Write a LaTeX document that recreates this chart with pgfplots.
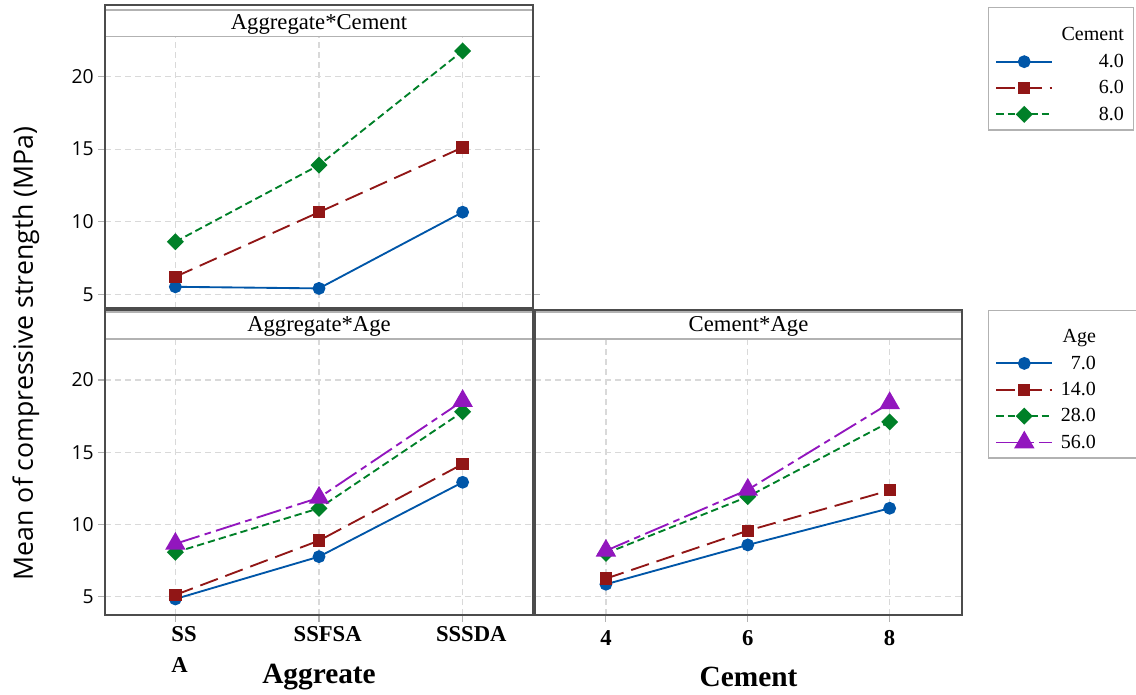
\documentclass[border=0pt]{standalone}
\usepackage{pgfplots}
\pgfplotsset{compat=1.18}
\usepackage{fontspec}
\setmainfont{Liberation Serif}
\newfontfamily\sansf{Open Sans}

\definecolor{cblue}{RGB}{0,86,168}
\definecolor{cred}{RGB}{145,22,22}
\definecolor{cgreen}{RGB}{0,128,40}
\definecolor{cpurple}{RGB}{146,22,190}

\pgfplotsset{
  panel/.style={
    scale only axis, clip=false,
    axis line style={black!80, line width=1pt},
    grid=major,
    major grid style={gray!30, line width=1pt, dash pattern=on 4.5pt off 3pt},
    tick align=outside,
    major tick length=5pt,
    tick style={gray!60, line width=0.8pt},
    yticklabel style={font=\sansf\fontsize{14.5}{16}\selectfont},
    xticklabel style={font=\bfseries\fontsize{17}{23}\selectfont, align=left},
    /pgf/number format/assume math mode=true,
    ytick={5,10,15,20},
    legend cell align=right,
    legend style={draw=gray!60, line width=1pt, font=\fontsize{15}{18}\selectfont,
      anchor=north west, inner xsep=5pt, inner ysep=4pt, row sep=4.3pt},
    legend image code/.code={\draw[mark repeat=2,mark phase=2,#1]
      plot coordinates {(0pt,0pt) (21pt,0pt) (42pt,0pt)};},
  },
  sA/.style={cblue, solid, line width=1.4pt, mark=*, mark size=4.1pt, mark options={solid}},
  sB/.style={cred, line width=1.4pt, dash pattern=on 14pt off 6pt, mark=square*, mark size=3.9pt, mark options={solid}},
  sC/.style={cgreen, line width=1.4pt, dash pattern=on 5.5pt off 3pt, mark=square*, mark size=3.8pt, mark options={solid, rotate=45}},
  sD/.style={cpurple, line width=1.4pt, dash pattern=on 19pt off 4pt on 5pt off 4pt, mark=triangle*, mark size=7.5pt, mark options={solid}},
}

\begin{document}
\begin{tikzpicture}
\path[use as bounding box] (0,0) rectangle (852pt,-521.25pt);

% Aggregate*Cement
\begin{axis}[panel,
  at={(78.75pt,-231pt)}, anchor=south west,
  width=321pt, height=203.5pt,
  xmin=-0.49, xmax=2.49, ymin=4.06, ymax=22.75,
  xtick={0,1,2}, xticklabels={}, xtick style={draw=none},
  legend style={at={(2.063,1.1095)}},
  after end axis/.code={
    \fill[white] (rel axis cs:0,1) rectangle (rel axis cs:1,1.0984);
    \draw[gray!60, line width=1.2pt] (rel axis cs:0,1) -- (rel axis cs:1,1)
      (rel axis cs:0,1.0984) -- (rel axis cs:1,1.0984);
    \node[font=\fontsize{17}{20}\selectfont] at (rel axis cs:0.5,1.045) {Aggregate*Cement};
    \draw[black!70, line width=1.8pt] (rel axis cs:0,0) rectangle (rel axis cs:1,1.117);
  }]
\addlegendimage{empty legend}
\addlegendentry{\makebox[51pt][r]{\rule{0pt}{19pt}Cement}}
\addplot[sA] coordinates {(0,5.52) (1,5.41) (2,10.66)};
\addlegendentry{\makebox[51pt][r]{4.0}}
\addplot[sB] coordinates {(0,6.21) (1,10.66) (2,15.12)};
\addlegendentry{\makebox[51pt][r]{6.0}}
\addplot[sC] coordinates {(0,8.62) (1,13.90) (2,21.77)};
\addlegendentry{\makebox[51pt][r]{8.0}}
\end{axis}

% Aggregate*Age
\begin{axis}[panel,
  at={(78.75pt,-461.25pt)}, anchor=south west,
  width=321pt, height=207pt,
  xmin=-0.49, xmax=2.49, ymin=3.73, ymax=22.84,
  xtick={0,1,2},
  xticklabels={{SS\\A}, SSFSA, SSSDA},
  xticklabel style={anchor=north, xshift=6.5pt},
  xlabel={Aggreate},
  xlabel style={at={(axis description cs:0.5,-0.2246)}, anchor=center,
    font=\bfseries\fontsize{22}{24}\selectfont},
  after end axis/.code={
    \fill[white] (rel axis cs:0,1) rectangle (rel axis cs:1,1.0978);
    \draw[gray!60, line width=1.2pt] (rel axis cs:0,1) -- (rel axis cs:1,1)
      (rel axis cs:0,1.0978) -- (rel axis cs:1,1.0978);
    \node[font=\fontsize{17}{20}\selectfont] at (rel axis cs:0.5,1.045) {Aggregate*Age};
    \draw[black!70, line width=1.8pt] (rel axis cs:0,0) rectangle (rel axis cs:1,1.105);
  }]
\addplot[sA] coordinates {(0,4.84) (1,7.77) (2,12.92)};
\addplot[sB] coordinates {(0,5.12) (1,8.88) (2,14.18)};
\addplot[sC] coordinates {(0,8.07) (1,11.12) (2,17.80)};
\addplot[sD] coordinates {(0,8.66) (1,11.85) (2,18.55)};
\end{axis}

% Cement*Age
\begin{axis}[panel,
  at={(401.25pt,-461.25pt)}, anchor=south west,
  width=320.25pt, height=207pt,
  xmin=3, xmax=9.02, ymin=3.73, ymax=22.84,
  xtick={4,6,8}, yticklabels={}, ytick style={draw=none},
  xticklabel style={yshift=-3pt},
  xlabel={Cement},
  xlabel style={at={(axis description cs:0.5,-0.2246)}, anchor=center,
    font=\bfseries\fontsize{22}{24}\selectfont},
  legend style={at={(1.061,1.105)}},
  after end axis/.code={
    \fill[white] (rel axis cs:0,1) rectangle (rel axis cs:1,1.0978);
    \draw[gray!60, line width=1.2pt] (rel axis cs:0,1) -- (rel axis cs:1,1)
      (rel axis cs:0,1.0978) -- (rel axis cs:1,1.0978);
    \node[font=\fontsize{17}{20}\selectfont] at (rel axis cs:0.5,1.045) {Cement*Age};
    \draw[black!70, line width=1.8pt] (rel axis cs:0,0) rectangle (rel axis cs:1,1.105);
  }]
\addlegendimage{empty legend}
\addlegendentry{\makebox[56pt][l]{\makebox[30pt][r]{\rule{0pt}{18pt}Age}}}
\addplot[sA] coordinates {(4,5.86) (6,8.58) (8,11.12)};
\addlegendentry{\makebox[56pt][l]{\makebox[30pt][r]{7.0}}}
\addplot[sB] coordinates {(4,6.25) (6,9.57) (8,12.36)};
\addlegendentry{\makebox[56pt][l]{\makebox[30pt][r]{14.0}}}
\addplot[sC] coordinates {(4,8.00) (6,11.92) (8,17.10)};
\addlegendentry{\makebox[56pt][l]{\makebox[30pt][r]{28.0}}}
\addplot[sD] coordinates {(4,8.18) (6,12.40) (8,18.40)};
\addlegendentry{\makebox[56pt][l]{\makebox[30pt][r]{56.0}}}
\end{axis}

\node[rotate=90, font=\sansf\fontsize{20}{22}\selectfont] at (19.5pt,-265pt)
  {Mean of compressive strength (MPa)};
\end{tikzpicture}
\end{document}
